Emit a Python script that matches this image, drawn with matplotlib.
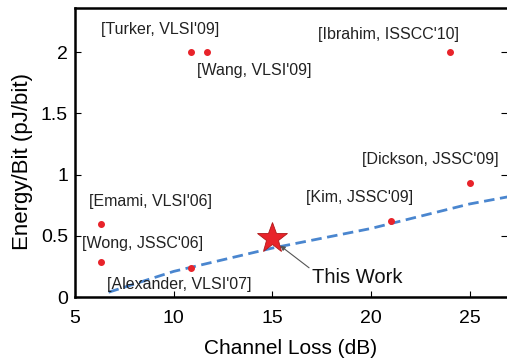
import matplotlib
matplotlib.use("Agg")
import matplotlib.pyplot as plt

plt.rcParams['font.family'] = ['Liberation Sans', 'DejaVu Sans']

# Published works: channel loss (dB) and energy/bit (pJ/bit)
works = ["[Turker, VLSI'09]", "[Wang, VLSI'09]", "[Ibrahim, ISSCC'10]",
         "[Dickson, JSSC'09]", "[Kim, JSSC'09]", "[Emami, VLSI'06]",
         "[Wong, JSSC'06]", "[Alexander, VLSI'07]"]
loss_db = [10.9, 11.7, 24.0, 25.0, 21.0, 6.3, 6.3, 10.9]
energy = [2.0, 2.0, 2.0, 0.93, 0.62, 0.60, 0.285, 0.24]
label_x = [9.3, 14.1, 20.9, 23.0, 19.45, 8.85, 8.4, 10.3]
label_y = [2.18, 1.85, 2.14, 1.12, 0.81, 0.78, 0.44, 0.105]

# This work
this_loss = [15.0]
this_energy = [0.48]

# Trend line
trend_x = [6.7, 10.0, 15.0, 20.0, 25.0, 27.0]
trend_y = [0.04, 0.21, 0.40, 0.56, 0.76, 0.82]

x_ticks = [5, 10, 15, 20, 25]
y_ticks = [0, 0.5, 1, 1.5, 2]
y_ticklabels = ["0", "0.5", "1", "1.5", "2"]

fig = plt.figure(figsize=(5.07, 3.58), dpi=100)
ax = fig.add_axes([0.148, 0.170, 0.852, 0.808])

ax.plot(trend_x, trend_y, linestyle=(0, (3.8, 2.0)), color='#4a86cf', lw=2.0, zorder=2)
ax.plot(loss_db, energy, 'o', color='#e8232a', markersize=4, zorder=3)
ax.plot(this_loss, this_energy, '*', color='#e8232a', markeredgecolor='#b01818',
        markeredgewidth=0.6, markersize=23, zorder=4)

for name, tx, ty in zip(works, label_x, label_y):
    ax.text(tx, ty, name, fontsize=11.5, ha='center', va='center', color='#222222')

ax.annotate("This Work", xy=(15.4, 0.42), xytext=(19.3, 0.16),
            fontsize=14.5, ha='center', va='center', color='#111111',
            arrowprops=dict(arrowstyle='-|>', color='#555555', lw=0.8,
                            shrinkA=0, shrinkB=0, mutation_scale=7,
                            relpos=(0.0, 0.9)))

ax.set_xlim(5, 26.9)
ax.set_ylim(0, 2.36)
ax.set_xticks(x_ticks)
ax.set_yticks(y_ticks)
ax.set_yticklabels(y_ticklabels)
ax.tick_params(direction='in', labelsize=14, length=4, width=0.8,
               right=True, top=False)
ax.tick_params(axis='x', pad=9)
ax.tick_params(axis='y', pad=5)
ax.spines['right'].set_visible(False)
for s in ['left', 'bottom', 'top']:
    ax.spines[s].set_linewidth(1.8)

ax.set_xlabel("Channel Loss (dB)", fontsize=15, labelpad=9)
ax.set_ylabel("Energy/Bit (pJ/bit)", fontsize=16)
ax.yaxis.set_label_coords(-0.097, 0.47)

fig.savefig("out.png", dpi=100)
